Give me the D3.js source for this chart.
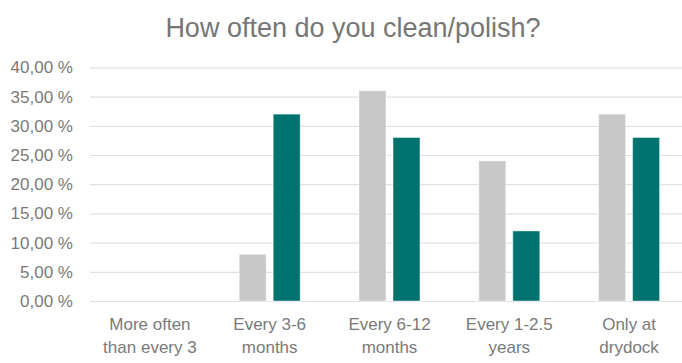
<!DOCTYPE html>
<html>
<head>
<meta charset="utf-8">
<script src="https://cdn.jsdelivr.net/npm/d3@7"></script>
<style>
    html, body { margin: 0; padding: 0; background: #fff; overflow: hidden; }
    svg { display: block; font-family: "Liberation Sans", Arial, sans-serif; }
</style>
</head>
<body>
<svg id="chart" width="682" height="363"></svg>
<script>

var title = "How often do you clean/polish?";

var categories = [
    "More often than every 3 months",
    "Every 3-6 months",
    "Every 6-12 months",
    "Every 1-2.5 years",
    "Only at drydock"
];

var seriesNames = ["A", "B"];

// values, in fractions
var seriesA = [0, 0.08, 0.36, 0.24, 0.32];
var seriesB = [0, 0.32, 0.28, 0.12, 0.28];

var yTicks = [0, 0.05, 0.10, 0.15, 0.20, 0.25, 0.30, 0.35, 0.40];

var colors = { A: "#c8c8c8", B: "#00736f" };

var svg = d3.select("#chart");

var locale = d3.formatLocale({
    decimal: ",",
    thousands: " ",
    grouping: [3],
    currency: ["", ""],
    percent: " %"
});
var fmt = locale.format(".2%");

var x = d3.scaleBand()
    .domain(categories)
    .range([90, 689])
    .paddingInner(0)
    .paddingOuter(0);

var x1 = d3.scaleBand()
    .domain(seriesNames)
    .range([0, x.bandwidth()])
    .paddingInner(0.206)
    .paddingOuter(0.865);

var y = d3.scaleLinear()
    .domain([0, 0.4])
    .range([301, 67.4]);

// title
svg.append("text")
    .attr("x", 353)
    .attr("y", 37)
    .attr("text-anchor", "middle")
    .attr("fill", "#767676")
    .style("font-size", "27px")
    .text(title);

// grid
var grid = svg.append("g")
    .attr("transform", "translate(90,0)")
    .call(d3.axisLeft(y).tickValues(yTicks).tickSize(-600).tickFormat(""));

grid.select(".domain").remove();
grid.selectAll(".tick line")
    .attr("stroke", "#e2e2e2")
    .attr("stroke-width", 1.2);

// y axis labels
var yAxis = svg.append("g")
    .attr("transform", "translate(73,0)")
    .call(d3.axisLeft(y).tickValues(yTicks).tickSize(0).tickPadding(0).tickFormat(fmt));

yAxis.select(".domain").remove();
yAxis.selectAll("text")
    .attr("fill", "#7a7a7a")
    .style("font-size", "17px")
    .style("font-family", "\"Liberation Sans\", Arial, sans-serif");

// bars
var groups = svg.append("g")
    .selectAll("g")
    .data(categories)
    .join("g")
        .attr("transform", function (d) { return "translate(" + x(d) + ",0)"; });

groups.selectAll("rect")
    .data(function (d, i) {
        return [
            { key: "A", value: seriesA[i] },
            { key: "B", value: seriesB[i] }
        ];
    })
    .join("rect")
        .attr("x", function (d) { return x1(d.key); })
        .attr("y", function (d) { return y(d.value); })
        .attr("width", x1.bandwidth())
        .attr("height", function (d) { return y(0) - y(d.value); })
        .attr("fill", function (d) { return colors[d.key]; })
        .attr("stroke", function (d) { return d.value > 0 ? "rgba(255,255,255,0.45)" : "none"; })
        .attr("stroke-width", 1);

// x axis labels, wrapped
var xAxis = svg.append("g")
    .attr("transform", "translate(0,301)")
    .call(d3.axisBottom(x).tickSize(0).tickPadding(0));

xAxis.select(".domain").remove();
xAxis.selectAll("text")
    .attr("fill", "#7a7a7a")
    .attr("y", 28.5)
    .attr("dy", 0)
    .style("font-size", "17px")
    .style("font-family", "\"Liberation Sans\", Arial, sans-serif")
    .call(wrap, 105);

function wrap(texts, width) {
    texts.each(function () {
        var text = d3.select(this);
        var words = text.text().split(/\s+/);
        var line = [];
        var lineNo = 0;
        var yy = text.attr("y");
        text.text(null);
        var tspan = text.append("tspan").attr("x", 0).attr("y", yy);
        words.forEach(function (w) {
            line.push(w);
            tspan.text(line.join(" "));
            if (tspan.node().getComputedTextLength() > width && line.length > 1) {
                line.pop();
                tspan.text(line.join(" "));
                line = [w];
                lineNo++;
                tspan = text.append("tspan")
                    .attr("x", 0)
                    .attr("y", +yy + lineNo * 23.5)
                    .text(w);
            }
        });
    });
}

</script>
</body>
</html>
